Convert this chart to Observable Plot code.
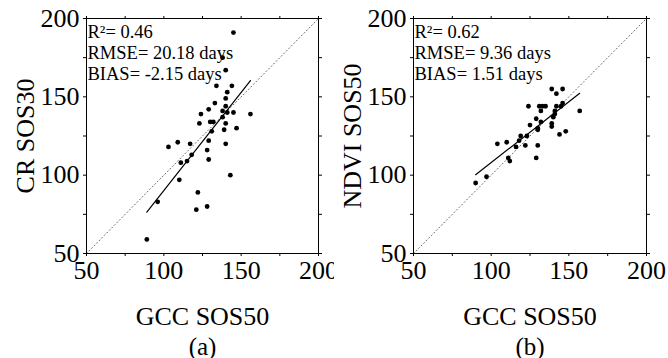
<!DOCTYPE html>
<html>
<head>
<meta charset="utf-8">
<script src="https://cdn.jsdelivr.net/npm/d3@7"></script>
<script src="https://cdn.jsdelivr.net/npm/@observablehq/plot@0.6"></script>
<style>
  html, body { margin: 0; padding: 0; background: #fff; }
  #wrap { display: flex; width: 668px; height: 358px; }
  svg { font-family: "Liberation Serif", "Times New Roman", serif; }
</style>
</head>
<body>
<div id="wrap"></div>
<script>
// Panel (a): GCC SOS50 vs CR SOS30
const gccA = [145,138,140,134,144,141,140,133,140,129,138,141,145,124,156,138,130,132,123,140,147,139,131,109,103,117,129,140,128,118,115,111,129,110,143,96,122,121,128,89];
const crA  = [191,175,167,157,157,153,149,146,144,142,141,140,140,139,139,137,134,134,133,133,130,129,128,121,118,120,122,120,116,113,109,108,110,97,100,83,89,78,80,59];
// Panel (b): GCC SOS50 vs NDVI SOS50
const gccB  = [139,146,142,124,131,133,135,146,145,142,157,132,141,141,140,129,132,125,139,139,130,130,144,148,119,123,118,104,110,116,122,130,111,112,129,97,90];
const ndviB = [155,155,152,144,144,144,144,146,144,144,141,141,141,139,137,136,134,132,133,131,130,129,126,128,125,125,122,120,121,118,119,119,111,109,111,99,95];

const axisTicks = [50,75,100,125,150,175,200];
const diagonal = [50,200];
const statsA = ["R²= 0.46", "RMSE= 20.18 days", "BIAS= -2.15 days"];
const statsB = ["R²= 0.62", "RMSE= 9.36 days", "BIAS= 1.51 days"];

function panel(xs, ys, yLabel, stats, tag, ml, mr) {
  const data = xs.map((x, i) => ({x, y: ys[i]}));
  const fmt = d => (d % 50 === 0 ? String(d) : "");
  return Plot.plot({
    width: 334,
    height: 358,
    marginTop: 18,
    marginBottom: 105,
    marginLeft: ml,
    marginRight: mr,
    style: {fontFamily: "'Liberation Serif', serif", background: "#fff", overflow: "visible"},
    x: {domain: [50, 200], label: null},
    y: {domain: [50, 200], label: null},
    marks: [
      Plot.line(diagonal, {x: d => d, y: d => d, stroke: "#666", strokeWidth: 1, strokeDasharray: "1,2.6"}),
      Plot.frame({stroke: "black", strokeWidth: 1}),
      Plot.axisX({anchor: "bottom", ticks: axisTicks, tickSize: 3, tickPadding: 4, tickFormat: fmt, fontSize: 26, label: null, color: "black"}),
      Plot.axisX({anchor: "top", ticks: axisTicks, tickSize: 3, tickFormat: () => "", label: null}),
      Plot.axisY({anchor: "left", ticks: axisTicks, tickSize: 3, tickPadding: 4, tickFormat: fmt, fontSize: 26, label: null}),
      Plot.axisY({anchor: "right", ticks: axisTicks, tickSize: 3, tickFormat: () => "", label: null}),
      Plot.linearRegressionY(data, {x: "x", y: "y", stroke: "black", strokeWidth: 1.2, ci: 0}),
      Plot.dot(data, {x: "x", y: "y", r: 2.4, fill: "black", stroke: "none"}),
      Plot.text([stats.join("\n")], {frameAnchor: "top-left", dx: 1, dy: 4.5, lineHeight: 1.14, fontSize: 18.5, textAnchor: "start", fill: "black"}),
      Plot.text([yLabel], {frameAnchor: "left", dx: -61, rotate: -90, textAnchor: "middle", lineAnchor: "middle", fontSize: 26, fill: "black"}),
      Plot.text(["GCC SOS50"], {frameAnchor: "bottom", dy: 63, textAnchor: "middle", lineAnchor: "middle", fontSize: 26, fill: "black"}),
      Plot.text([tag], {frameAnchor: "bottom", dy: 93, textAnchor: "middle", lineAnchor: "middle", fontSize: 25, fill: "black"})
    ]
  });
}

const wrap = document.getElementById("wrap");
wrap.appendChild(panel(gccA, crA, "CR SOS30", statsA, "(a)", 86, 16));
wrap.appendChild(panel(gccB, ndviB, "NDVI SOS50", statsB, "(b)", 79, 22));
</script>
</body>
</html>
